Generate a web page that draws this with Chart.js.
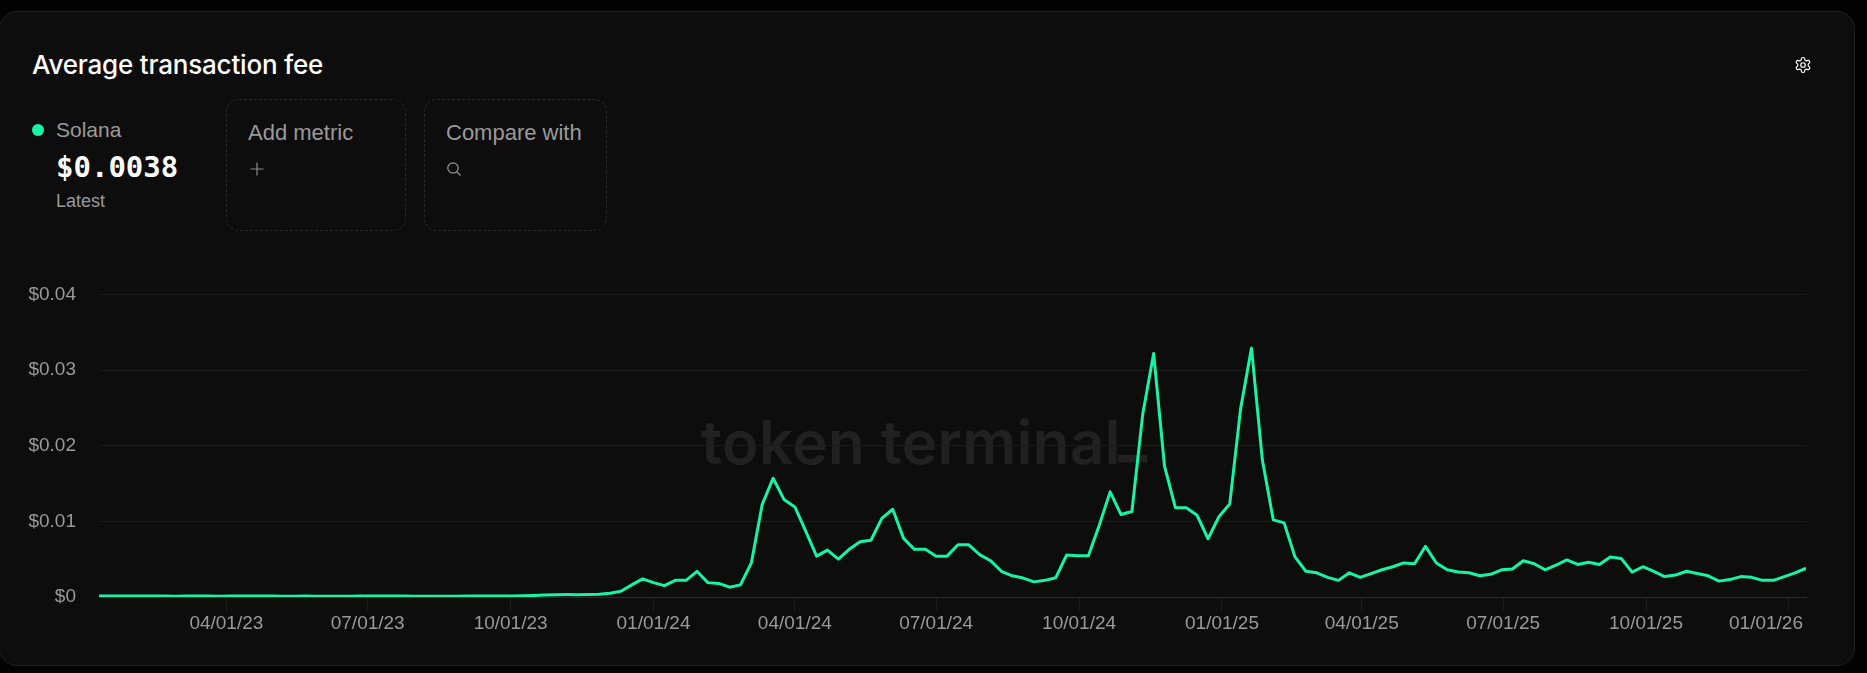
<!DOCTYPE html>
<html>
<head>
<meta charset="utf-8">
<title>Average transaction fee</title>
<script src="https://cdn.jsdelivr.net/npm/chart.js@4"></script>
<style>
    html, body { margin: 0; padding: 0; width: 1867px; height: 673px; overflow: hidden; background: #030303; }
    body { position: relative; font-family: 'Liberation Sans', sans-serif; color: #9a9a9a; }
    .card { position: absolute; left: -1px; top: 11px; width: 1856px; height: 655px; box-sizing: border-box;
        background: #0d0d0d; border: 1px solid #212121; border-radius: 18px; }
    .abs { position: absolute; white-space: nowrap; line-height: 1; }
    .title { left: 32px; top: 52px; font-family: Inter, sans-serif; font-size: 26px; font-weight: 500; color: #fff; letter-spacing: -0.2px; }
    .dot { left: 32px; top: 124px; width: 12px; height: 12px; border-radius: 50%; background: #15f5a5; }
    .name { left: 56px; top: 119px; font-size: 21px; }
    .latest-value { left: 56px; top: 153px; font-family: 'DejaVu Sans Mono', monospace; font-size: 29px; font-weight: 700; color: #fff; }
    .latest { left: 56px; top: 192px; font-size: 18px; }
    .box { position: absolute; top: 99px; height: 132px; box-sizing: border-box; border: 1px dashed #282828; border-radius: 13px; }
    .box-label { top: 122px; font-size: 22px; }
    .watermark { left: 701px; top: 412px; font-family: Inter, sans-serif; font-size: 60px; font-weight: 600; color: #212121; letter-spacing: 0.4px; }
    .watermark span { position: relative; top: -9px; margin-left: -3px; font-weight: 800; }
    #chartWrap { position: absolute; left: 0; top: 260px; width: 1867px; height: 400px; }
</style>
</head>
<body>
<div class="card"></div>
<div class="abs title">Average transaction fee</div>
<svg class="abs" style="left:1794px;top:56px" width="18" height="18" viewBox="0 0 24 24" fill="none" stroke="#fff" stroke-width="1.6">
    <path d="M12.22 2h-.44a2 2 0 0 0-2 2v.18a2 2 0 0 1-1 1.73l-.43.25a2 2 0 0 1-2 0l-.15-.08a2 2 0 0 0-2.73.73l-.22.38a2 2 0 0 0 .73 2.73l.15.1a2 2 0 0 1 1 1.72v.51a2 2 0 0 1-1 1.74l-.15.09a2 2 0 0 0-.73 2.73l.22.38a2 2 0 0 0 2.73.73l.15-.08a2 2 0 0 1 2 0l.43.25a2 2 0 0 1 1 1.73V20a2 2 0 0 0 2 2h.44a2 2 0 0 0 2-2v-.18a2 2 0 0 1 1-1.73l.43-.25a2 2 0 0 1 2 0l.15.08a2 2 0 0 0 2.73-.73l.22-.39a2 2 0 0 0-.73-2.73l-.15-.08a2 2 0 0 1-1-1.74v-.5a2 2 0 0 1 1-1.74l.15-.09a2 2 0 0 0 .73-2.73l-.22-.38a2 2 0 0 0-2.73-.73l-.15.08a2 2 0 0 1-2 0l-.43-.25a2 2 0 0 1-1-1.73V4a2 2 0 0 0-2-2z"/>
    <circle cx="12" cy="12" r="3"/>
</svg>

<div class="abs dot"></div>
<div class="abs name">Solana</div>
<div class="abs latest-value">$0.0038</div>
<div class="abs latest">Latest</div>

<div class="box" style="left:226px;width:180px"></div>
<div class="abs box-label" style="left:248px">Add metric</div>
<svg class="abs" style="left:249px;top:161px" width="16" height="16" viewBox="0 0 16 16" stroke="#8a8a8a" stroke-width="1.2">
    <path d="M8 1.5v13M1.5 8h13"/>
</svg>

<div class="box" style="left:424px;width:183px"></div>
<div class="abs box-label" style="left:446px">Compare with</div>
<svg class="abs" style="left:446px;top:161px" width="16" height="16" viewBox="0 0 16 16" fill="none" stroke="#9a9a9a" stroke-width="1.2">
    <circle cx="7" cy="7" r="5.2"/>
    <path d="M10.8 10.8l3.7 3.7"/>
</svg>

<div class="abs watermark">token terminal<span>_</span></div>
<div id="chartWrap"><canvas id="feeChart" width="1867" height="400"></canvas></div>

<script>
const firstWeek = '2023-01-09';
const lastWeek = '2026-01-12';

// weekly average fee in USD, one value per Monday
const feeValues = [
    0.00013, 0.00013, 0.00013, 0.00013, 0.00013, 0.00012, 0.00012, 0.00011, 0.00012, 0.00013,
    0.00012, 0.00011, 0.00012, 0.00013, 0.00013, 0.00013, 0.00012, 0.00011, 0.00011, 0.00012,
    0.00011, 0.0001, 0.00011, 0.00011, 0.00012, 0.00012, 0.00012, 0.00012, 0.00012, 0.00011,
    0.00011, 0.00011, 0.00011, 0.00011, 0.00012, 0.00012, 0.00013, 0.00013, 0.00014, 0.00017,
    0.00021, 0.00026, 0.0003, 0.00032, 0.00031, 0.00033, 0.00037, 0.0005, 0.00075, 0.0016,
    0.0024, 0.0019, 0.0015, 0.0022, 0.0022, 0.0034, 0.0019, 0.0018, 0.0013, 0.0016,
    0.0045, 0.01225, 0.0157, 0.0129, 0.0119, 0.0087, 0.0054, 0.0062, 0.005, 0.0063,
    0.0073, 0.0075, 0.0104, 0.0116, 0.00775, 0.0063, 0.0063, 0.0054, 0.0054, 0.0069,
    0.0069, 0.0056, 0.0048, 0.0034, 0.0028, 0.0025, 0.002, 0.0022, 0.00255, 0.00555,
    0.00545, 0.00545, 0.0095, 0.0139, 0.0109, 0.0113, 0.0242, 0.0322, 0.0173, 0.0118,
    0.0118, 0.0108, 0.0077, 0.0106, 0.0123, 0.0249, 0.0329, 0.0181, 0.0102, 0.0098,
    0.0053, 0.0034, 0.0032, 0.0026, 0.0022, 0.0032, 0.0026, 0.0031, 0.0036, 0.004,
    0.0045, 0.0044, 0.0067, 0.0045, 0.0036, 0.0033, 0.0032, 0.0028, 0.003, 0.0036,
    0.0037, 0.0048, 0.0044, 0.0036, 0.0042, 0.0049, 0.0043, 0.0046, 0.0043, 0.0053,
    0.0051, 0.0033, 0.004, 0.0034, 0.0027, 0.0029, 0.0034, 0.0031, 0.0028, 0.0021,
    0.0023, 0.0027, 0.0026, 0.0022, 0.0022, 0.0027, 0.0032, 0.0038
];
const yTickValues = [0, 0.01, 0.02, 0.03, 0.04];
const xTickLabels = ['04/01/23', '07/01/23', '10/01/23', '01/01/24', '04/01/24', '07/01/24', '10/01/24',
    '01/01/25', '04/01/25', '07/01/25', '10/01/25', '01/01/26'];

const DAY = 86400000;
const startMs = Date.parse(firstWeek + 'T00:00:00Z');
const endMs = Date.parse(lastWeek + 'T00:00:00Z');

// labels are MM/DD/YY
function labelToMs(label) {
    const p = label.split('/');
    return Date.UTC(2000 + Number(p[2]), Number(p[0]) - 1, Number(p[1]));
}

const feePoints = feeValues.map(function (v, i) {
    return { x: startMs + i * 7 * DAY, y: v };
});

// the last date label sits flush with the right edge of the plot
const lastLabelFlush = {
    id: 'lastLabelFlush',
    beforeDraw: function (chart) {
        const items = chart.scales.x.getLabelItems();
        const last = items[items.length - 1];
        last.options.textAlign = 'right';
        last.options.translation[0] = chart.chartArea.right - 3;
    }
};

document.addEventListener('DOMContentLoaded', function () {
    const ctx = document.getElementById('feeChart').getContext('2d');
    new Chart(ctx, {
        type: 'line',
        data: {
            datasets: [{
                label: 'Solana',
                data: feePoints,
                borderColor: '#15f5a5',
                borderWidth: 3,
                pointRadius: 0,
                tension: 0,
                borderJoinStyle: 'round',
                fill: false
            }]
        },
        plugins: [lastLabelFlush],
        options: {
            responsive: false,
            animation: false,
            layout: { padding: { top: 8, right: 61, left: 0, bottom: 0 } },
            plugins: { legend: { display: false }, tooltip: { enabled: false } },
            scales: {
                x: {
                    type: 'linear',
                    min: startMs,
                    max: endMs,
                    afterFit: function (scale) { scale.height = 63; },
                    afterBuildTicks: function (scale) {
                        scale.ticks = xTickLabels.map(function (l) { return { value: labelToMs(l), label: l }; });
                    },
                    afterTickToLabelConversion: function (scale) {
                        scale.ticks.forEach(function (t, i) { t.label = xTickLabels[i]; });
                    },
                    border: { color: '#2a2a2a', width: 1 },
                    grid: { drawOnChartArea: false, tickLength: 14, tickColor: '#1d1d1d', tickWidth: 1 },
                    ticks: {
                        autoSkip: false, maxRotation: 0, minRotation: 0, padding: 1,
                        color: '#9a9a9a',
                        font: { family: "'Liberation Sans', sans-serif", size: 19 }
                    }
                },
                y: {
                    min: 0,
                    max: 0.04,
                    afterFit: function (scale) { scale.width = 99; },
                    afterBuildTicks: function (scale) {
                        scale.ticks = yTickValues.map(function (v) { return { value: v }; });
                    },
                    border: { display: false },
                    grid: {
                        drawTicks: false,
                        color: function (c) { return c.tick.value === 0 ? 'rgba(0,0,0,0)' : '#1b1b1b'; }
                    },
                    ticks: {
                        padding: 23,
                        color: '#9a9a9a',
                        font: { family: "'Liberation Sans', sans-serif", size: 19 },
                        callback: function (v) { return '$' + v; }
                    }
                }
            }
        }
    });
});
</script>
</body>
</html>
